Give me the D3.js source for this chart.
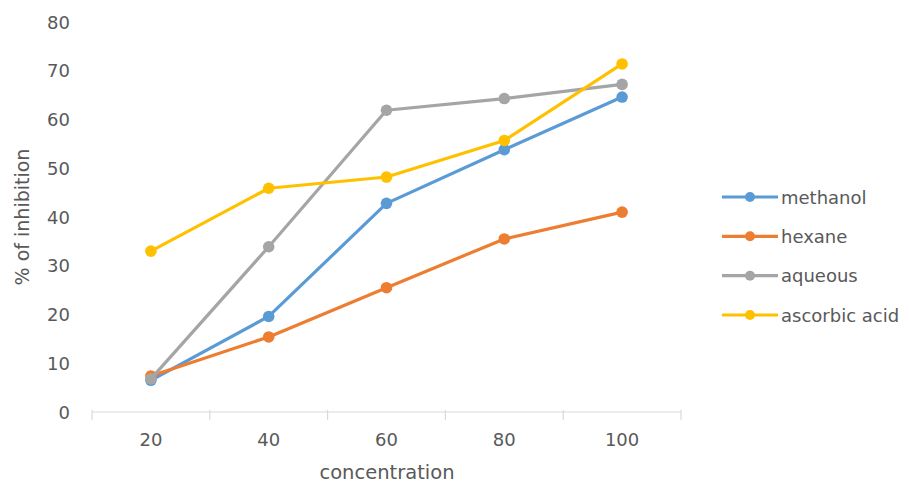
<!DOCTYPE html>
<html>
<head>
<meta charset="utf-8">
<script src="https://cdn.jsdelivr.net/npm/d3@7"></script>
<style>
  html, body { margin: 0; padding: 0; background: #ffffff; }
  svg { display: block; }
  text { font-family: "DejaVu Sans", sans-serif; fill: #595959; }
</style>
</head>
<body>
<svg id="chart" width="909" height="484"></svg>
<script>
const categories = ["20", "40", "60", "80", "100"];
const methanol = [6.5, 19.6, 42.8, 53.8, 64.6];
const hexane = [7.4, 15.4, 25.5, 35.5, 41.0];
const aqueous = [6.8, 33.9, 61.9, 64.3, 67.2];
const ascorbicAcid = [33.0, 45.9, 48.2, 55.7, 71.4];
const seriesNames = ["methanol", "hexane", "aqueous", "ascorbic acid"];
const yTicks = [0, 10, 20, 30, 40, 50, 60, 70, 80];
const xTitle = "concentration";
const yTitle = "% of inhibition";

const seriesValues = [methanol, hexane, aqueous, ascorbicAcid];
const colors = ["#5B9BD5", "#ED7D31", "#A5A5A5", "#FFC000"];

const svg = d3.select("#chart");

const x = d3.scaleBand().domain(categories).range([92, 681]);
const y = d3.scaleLinear().domain([0, 80]).range([412, 22]);
const cx = c => x(c) + x.bandwidth() / 2;

// X axis line and ticks (category boundaries)
svg.append("line")
  .attr("x1", x.range()[0]).attr("x2", x.range()[1])
  .attr("y1", y(0)).attr("y2", y(0))
  .attr("stroke", "#d9d9d9").attr("stroke-width", 1.2);

const bounds = categories.map(c => x(c)).concat([x.range()[1]]);
svg.selectAll(".xtick").data(bounds).enter().append("line")
  .attr("x1", d => d).attr("x2", d => d)
  .attr("y1", y(0) - 2).attr("y2", y(0) + 8)
  .attr("stroke", "#d9d9d9").attr("stroke-width", 1.2);

svg.selectAll(".xlabel").data(categories).enter().append("text")
  .attr("x", d => cx(d)).attr("y", 439)
  .attr("text-anchor", "middle").attr("dominant-baseline", "central")
  .style("font-size", "18px")
  .text(d => d);

svg.selectAll(".ylabel").data(yTicks).enter().append("text")
  .attr("x", 70).attr("y", d => y(d))
  .attr("text-anchor", "end").attr("dominant-baseline", "central")
  .style("font-size", "18px")
  .text(d => d);

svg.append("text")
  .attr("x", 387).attr("y", 472)
  .attr("text-anchor", "middle").attr("dominant-baseline", "central")
  .style("font-size", "19.5px")
  .text(xTitle);

svg.append("text")
  .attr("transform", "translate(22,217) rotate(-90)")
  .attr("text-anchor", "middle").attr("dominant-baseline", "central")
  .style("font-size", "19px")
  .text(yTitle);

// Lines
const line = d3.line()
  .x((d, i) => cx(categories[i]))
  .y(d => y(d));

seriesValues.forEach((vals, s) => {
  const g = svg.append("g");
  g.append("path")
    .datum(vals)
    .attr("d", line)
    .attr("fill", "none")
    .attr("stroke", colors[s])
    .attr("stroke-width", 3.2)
    .attr("stroke-linejoin", "round")
    .attr("stroke-linecap", "round");
  g.selectAll("circle").data(vals).enter().append("circle")
    .attr("cx", (d, i) => cx(categories[i]))
    .attr("cy", d => y(d))
    .attr("r", 5.8)
    .attr("fill", colors[s]);
});

// Legend
const legendY = d3.scalePoint().domain(seriesNames).range([197, 315]);
const legend = svg.selectAll(".legend").data(seriesNames).enter().append("g")
  .attr("transform", d => `translate(0,${legendY(d)})`);
legend.append("line")
  .attr("x1", 722).attr("x2", 778).attr("y1", 0).attr("y2", 0)
  .attr("stroke", (d, i) => colors[i]).attr("stroke-width", 3.2);
legend.append("circle")
  .attr("cx", 750).attr("cy", 0).attr("r", 5)
  .attr("fill", (d, i) => colors[i]);
legend.append("text")
  .attr("x", 781).attr("y", 0)
  .attr("dominant-baseline", "central")
  .style("font-size", "18px")
  .text(d => d);
</script>
</body>
</html>
